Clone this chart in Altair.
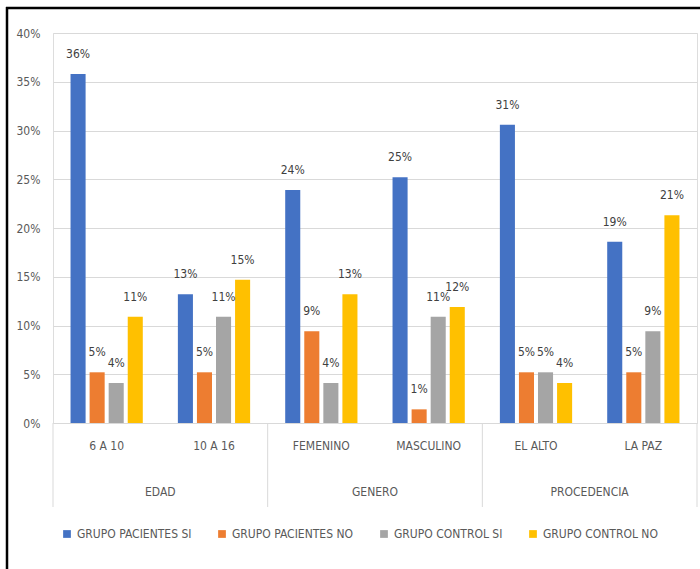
import altair as alt
import pandas as pd

categorias = ["6 A 10", "10 A 16", "FEMENINO", "MASCULINO", "EL ALTO", "LA PAZ"]
grupos = ["EDAD", "GENERO", "PROCEDENCIA"]
series = ["GRUPO PACIENTES SI", "GRUPO PACIENTES NO", "GRUPO CONTROL SI", "GRUPO CONTROL NO"]
colores = ["#4472C4", "#ED7D31", "#A5A5A5", "#FFC000"]

pacientes_si = [0.358, 0.132, 0.239, 0.252, 0.306, 0.186]
pacientes_no = [0.052, 0.052, 0.094, 0.014, 0.052, 0.052]
control_si = [0.041, 0.109, 0.041, 0.109, 0.052, 0.094]
control_no = [0.109, 0.147, 0.132, 0.119, 0.041, 0.213]

valores = [pacientes_si, pacientes_no, control_si, control_no]
rows = []
for s, vals in zip(series, valores):
    for c, v in zip(categorias, vals):
        rows.append({"categoria": c, "serie": s, "valor": v})
df = pd.DataFrame(rows)

grp_df = pd.DataFrame({
    "categoria": [categorias[0], categorias[2], categorias[4]],
    "grupo": grupos,
})
sep_df = pd.DataFrame({"categoria": [categorias[0], categorias[2], categorias[4]]})
sep_end_df = pd.DataFrame({"categoria": [categorias[5]]})

FONT = "Liberation Sans Narrow, DejaVu Sans Condensed, Arial Narrow, sans-serif"
H = 390
W = 644

xscale = alt.Scale(domain=categorias, paddingInner=0, paddingOuter=0)
offscale = alt.Scale(domain=series, paddingInner=0.21, paddingOuter=0.92)
yscale = alt.Scale(domain=[0, 0.40])

bars = alt.Chart(df).mark_bar().encode(
    x=alt.X("categoria:N", scale=xscale, sort=categorias,
            axis=alt.Axis(title=None, labelAngle=0, ticks=False, domainColor="#d9d9d9",
                          labelPadding=17, labelFont=FONT, labelFontSize=12,
                          labelColor="#595959", grid=False)),
    xOffset=alt.XOffset("serie:N", sort=series, scale=offscale),
    y=alt.Y("valor:Q", scale=yscale,
            axis=alt.Axis(title=None, values=[0, 0.05, 0.10, 0.15, 0.20, 0.25, 0.30, 0.35, 0.40],
                          format=".0%", ticks=False, domain=False, gridColor="#d9d9d9",
                          labelPadding=13, labelFont=FONT, labelFontSize=12,
                          labelColor="#595959")),
    color=alt.Color("serie:N", sort=series,
                    scale=alt.Scale(domain=series, range=colores),
                    legend=alt.Legend(title=None, orient="none", direction="horizontal",
                                      legendX=8, legendY=495, symbolType="square",
                                      symbolSize=60, symbolStrokeWidth=0,
                                      labelFont=FONT, labelFontSize=12,
                                      labelColor="#595959", columnPadding=24,
                                      labelOffset=4)),
)

labels = alt.Chart(df).mark_text(baseline="bottom", dy=-13, font=FONT, fontSize=12,
                                 color="#404040").encode(
    x=alt.X("categoria:N", scale=xscale, sort=categorias),
    xOffset=alt.XOffset("serie:N", sort=series, scale=offscale),
    y=alt.Y("valor:Q", scale=yscale),
    text=alt.Text("valor:Q", format=".0%"),
)

grp_text = alt.Chart(grp_df).mark_text(baseline="middle", font=FONT, fontSize=12,
                                       color="#595959").encode(
    x=alt.X("categoria:N", scale=xscale, sort=categorias, bandPosition=1),
    y=alt.value(H + 69),
    text="grupo:N",
)

seps = alt.Chart(sep_df).mark_rule(color="#d9d9d9", strokeWidth=1).encode(
    x=alt.X("categoria:N", scale=xscale, sort=categorias, bandPosition=0),
    y=alt.value(H),
    y2=alt.value(H + 84),
)
sep_end = alt.Chart(sep_end_df).mark_rule(color="#d9d9d9", strokeWidth=1).encode(
    x=alt.X("categoria:N", scale=xscale, sort=categorias, bandPosition=1),
    y=alt.value(H),
    y2=alt.value(H + 84),
)

frame_left = alt.Chart(sep_end_df).mark_rule(color="black", strokeWidth=2.5).encode(
    x=alt.value(-46), y=alt.value(-26), y2=alt.value(540))
frame_top = alt.Chart(sep_end_df).mark_rule(color="black", strokeWidth=2.5).encode(
    x=alt.value(-47), x2=alt.value(650), y=alt.value(-25))

chart = alt.layer(bars, labels, grp_text, seps, sep_end, frame_left, frame_top).properties(
    width=W, height=H,
    autosize=alt.AutoSizeParams(type="none"),
    padding={"left": 53, "top": 33, "right": 3, "bottom": 146},
).configure_view(stroke=None).configure(background="white")

chart.save("out.html", embed_options={"renderer": "svg", "actions": False})
